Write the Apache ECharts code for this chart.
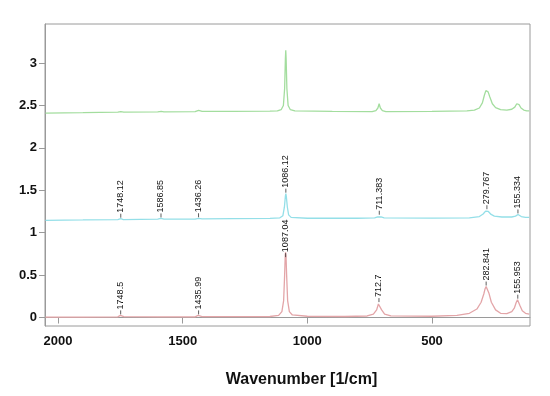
<!DOCTYPE html>
<html>
<head>
<meta charset="utf-8">
<script src="https://cdn.jsdelivr.net/npm/echarts@6.0.0/dist/echarts.min.js"></script>
<style>
  html, body { margin: 0; padding: 0; background: #fff; }
  #main { width: 550px; height: 396px; }
</style>
</head>
<body>
<div id="main"></div>
<script>
// tick labels
const xTicks = [2000, 1500, 1000, 500];
const yTicks = [0, 0.5, 1, 1.5, 2, 2.5, 3];

// spectra: [wavenumber, intensity]
const greenSpectrum = [
  [2050, 2.41], [1900, 2.415], [1760, 2.42], [1748, 2.428], [1736, 2.42], [1600, 2.424],
  [1586, 2.43], [1575, 2.424], [1450, 2.428], [1436, 2.443], [1422, 2.43], [1300, 2.43],
  [1150, 2.432], [1120, 2.435], [1105, 2.45], [1096, 2.5], [1091, 2.7], [1088, 3.05],
  [1086.5, 3.15], [1085, 3.05], [1082, 2.7], [1077, 2.5], [1068, 2.45], [1050, 2.435],
  [900, 2.43], [740, 2.428], [725, 2.44], [717, 2.47], [712, 2.52], [707, 2.47], [699, 2.44],
  [685, 2.428], [500, 2.43], [360, 2.435], [330, 2.445], [310, 2.47], [298, 2.53], [290, 2.62],
  [284, 2.675], [280, 2.68], [275, 2.66], [268, 2.6], [258, 2.52], [245, 2.475], [225, 2.45],
  [200, 2.445], [180, 2.455], [168, 2.48], [160, 2.52], [156, 2.53], [151, 2.51], [143, 2.47],
  [132, 2.445], [120, 2.435], [110, 2.435]
];
const cyanSpectrum = [
  [2050, 1.145], [1900, 1.15], [1760, 1.155], [1748, 1.165], [1738, 1.155], [1600, 1.16],
  [1587, 1.168], [1575, 1.16], [1450, 1.16], [1436, 1.17], [1422, 1.162], [1300, 1.165],
  [1150, 1.168], [1110, 1.175], [1098, 1.2], [1092, 1.3], [1088, 1.43], [1086, 1.46],
  [1084, 1.42], [1080, 1.3], [1075, 1.21], [1065, 1.18], [1000, 1.17], [800, 1.17],
  [730, 1.175], [718, 1.185], [711, 1.2], [704, 1.185], [692, 1.175], [500, 1.172],
  [350, 1.175], [310, 1.19], [295, 1.22], [285, 1.255], [280, 1.265], [274, 1.25],
  [263, 1.215], [250, 1.195], [220, 1.185], [180, 1.185], [165, 1.195], [158, 1.21],
  [155, 1.215], [151, 1.205], [142, 1.19], [125, 1.18], [110, 1.18]
];
const redSpectrum = [
  [2050, 0.005], [1900, 0.005], [1760, 0.008], [1750, 0.025], [1746, 0.025], [1736, 0.01],
  [1600, 0.008], [1450, 0.008], [1438, 0.025], [1434, 0.025], [1422, 0.01], [1300, 0.01],
  [1150, 0.012], [1115, 0.025], [1102, 0.07], [1095, 0.2], [1091, 0.5], [1088.5, 0.74],
  [1087, 0.77], [1085.5, 0.73], [1083, 0.5], [1079, 0.2], [1072, 0.07], [1060, 0.03],
  [1000, 0.015], [850, 0.012], [760, 0.018], [735, 0.04], [722, 0.09], [715, 0.16],
  [712, 0.17], [709, 0.16], [702, 0.09], [690, 0.04], [665, 0.02], [500, 0.015],
  [400, 0.025], [350, 0.05], [320, 0.1], [303, 0.18], [292, 0.28], [287, 0.34],
  [283, 0.365], [279, 0.35], [272, 0.29], [262, 0.18], [245, 0.09], [225, 0.05],
  [200, 0.045], [180, 0.07], [170, 0.11], [162, 0.18], [157, 0.21], [153, 0.2],
  [147, 0.14], [138, 0.08], [125, 0.05], [110, 0.04]
];

// peak labels: position [wavenumber, intensity] and text
const cyanPeaks = [[1748.12, 1.165], [1586.85, 1.168], [1436.26, 1.17], [1086.12, 1.46], [711.383, 1.2], [279.767, 1.265], [155.334, 1.215]];
const cyanPeakText = ['1748.12', '1586.85', '1436.26', '1086.12', '711.383', '279.767', '155.334'];
const redPeaks = [[1748.5, 0.025], [1435.99, 0.025], [1087.04, 0.7], [712.7, 0.17], [282.841, 0.365], [155.953, 0.21]];
const redPeakText = ['1748.5', '1435.99', '1087.04', '712.7', '282.841', '155.953'];

const axisGrey = '#9a9a9a';
const tickFont = { color: '#111', fontSize: 13, fontWeight: 'bold', fontFamily: 'Liberation Sans, Arial, sans-serif' };

// short leader + vertical text above each peak
const peakLabels = (points, texts) => ({
  type: 'custom',
  silent: true,
  z: 5,
  data: points,
  renderItem: (params, api) => {
    const p = api.coord([api.value(0), api.value(1)]);
    return {
      type: 'group',
      children: [
        { type: 'line', shape: { x1: p[0], y1: p[1] - 1, x2: p[0], y2: p[1] - 5 }, style: { stroke: '#333', lineWidth: 0.8 } },
        {
          type: 'text', x: p[0], y: p[1] - 6, rotation: Math.PI / 2,
          style: { text: texts[params.dataIndex], align: 'left', verticalAlign: 'middle', fill: '#111', font: '9px Liberation Sans, Arial, sans-serif' }
        }
      ]
    };
  }
});

const line = (data, color) => ({
  type: 'line', data: data, showSymbol: false, smooth: false,
  lineStyle: { color: color, width: 1.3 }, silent: true
});

const chart = echarts.init(document.getElementById('main'));
chart.setOption({
  backgroundColor: '#fff',
  animation: false,
  grid: { left: 45, right: 20, top: 24, bottom: 70, show: true, borderColor: axisGrey, borderWidth: 1 },
  xAxis: {
    type: 'value', inverse: true, min: 107, max: 2052,
    name: 'Wavenumber [1/cm]', nameLocation: 'middle', nameGap: 46,
    nameTextStyle: { color: '#111', fontSize: 16, fontWeight: 'bold', fontFamily: 'Liberation Sans, Arial, sans-serif', padding: [0, 0, 0, 28] },
    axisLine: { show: true, lineStyle: { color: axisGrey } },
    axisTick: { show: true, length: 6, customValues: xTicks, lineStyle: { color: axisGrey } },
    axisLabel: Object.assign({ margin: 9, customValues: xTicks, formatter: (v) => String(v) }, tickFont),
    splitLine: { show: false }
  },
  yAxis: {
    type: 'value', min: -0.1, max: 3.46,
    axisLine: { show: true, lineStyle: { color: axisGrey } },
    axisTick: { show: true, length: 6, customValues: yTicks, lineStyle: { color: axisGrey } },
    axisLabel: Object.assign({ margin: 8, customValues: yTicks }, tickFont),
    splitLine: { show: false }
  },
  series: [
    line(greenSpectrum, '#a3dd9e'),
    line(cyanSpectrum, '#94dfe8'),
    line(redSpectrum, '#e3a5a8'),
    peakLabels(cyanPeaks, cyanPeakText),
    peakLabels(redPeaks, redPeakText)
  ]
});
</script>
</body>
</html>
